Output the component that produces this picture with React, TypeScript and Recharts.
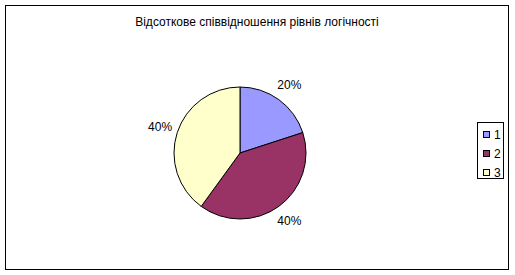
import React from 'react';
import { PieChart, Pie, Cell, Legend, Customized } from 'recharts';

const title = 'Відсоткове співвідношення рівнів логічності';
const categories = ['1', '2', '3'];
const values = [20, 40, 40];
const colors = ['#9999FF', '#993366', '#FFFFCC'];

const data = categories.map((name, i) => ({ name, value: values[i] }));

const FONT = '"Liberation Sans", Arial, sans-serif';
const RADIAN = Math.PI / 180;

const renderLabel = (props: any) => {
  const { cx, cy, midAngle, outerRadius, value } = props;
  const r = outerRadius + 18;
  const x = cx + r * Math.cos(-midAngle * RADIAN);
  const y = cy + r * Math.sin(-midAngle * RADIAN);
  return (
    <text
      x={x}
      y={y}
      textAnchor="middle"
      dominantBaseline="central"
      fontFamily={FONT}
      fontSize={12}
      fill="#000"
    >
      {value}%
    </text>
  );
};

const renderLegend = () => (
  <div
    style={{
      width: 27,
      height: 57,
      border: '1px solid #000',
      boxSizing: 'border-box',
      background: '#fff',
      fontFamily: FONT,
      fontSize: 12,
      paddingTop: 2,
      color: '#000',
    }}
  >
    {categories.map((c, i) => (
      <div
        key={c}
        style={{ display: 'flex', alignItems: 'center', height: 19, paddingLeft: 5 }}
      >
        <span
          style={{
            display: 'inline-block',
            width: 7,
            height: 7,
            boxSizing: 'border-box',
            border: '1px solid #000',
            background: colors[i],
            marginRight: 4,
          }}
        />
        <span style={{ lineHeight: '12px' }}>{c}</span>
      </div>
    ))}
  </div>
);

const Frame = () => (
  <g>
    <rect x={5.5} y={5.5} width={503} height={264} fill="none" stroke="#000" strokeWidth={1} />
    <text x={257} y={26} textAnchor="middle" fontFamily={FONT} fontSize={12} fill="#000">
      {title}
    </text>
  </g>
);

export default function App() {
  return (
    <div style={{ position: 'absolute', left: 0, top: 0, width: 515, height: 275, background: '#fff' }}>
      <PieChart width={515} height={275} margin={{ top: 0, right: 0, bottom: 0, left: 0 }}>
        <Customized component={Frame} />
        <Pie
          data={data}
          dataKey="value"
          nameKey="name"
          cx={240}
          cy={153}
          outerRadius={66}
          startAngle={90}
          endAngle={-270}
          stroke="#000"
          strokeWidth={1}
          label={renderLabel}
          labelLine={false}
          isAnimationActive={false}
        >
          {data.map((d, i) => (
            <Cell key={d.name} fill={colors[i]} />
          ))}
        </Pie>
        <Legend
          content={renderLegend}
          layout="vertical"
          align="right"
          verticalAlign="top"
          wrapperStyle={{ position: 'absolute', left: 477, top: 122, width: 27, height: 57, right: 'auto', bottom: 'auto' }}
        />
      </PieChart>
    </div>
  );
}
